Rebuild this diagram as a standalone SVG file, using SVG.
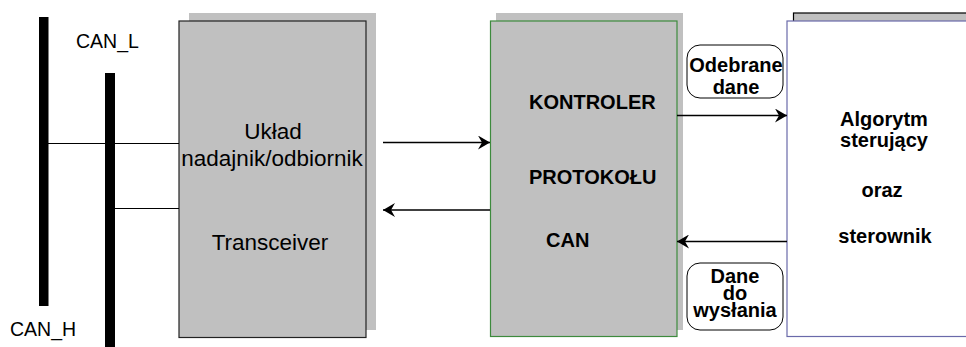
<svg xmlns="http://www.w3.org/2000/svg" width="966" height="347" viewBox="0 0 966 347">
  <style>
    .txt { font-family: "Liberation Sans", Arial, sans-serif; fill: #000; }
    .reg { font-size: 22.5px; }
    .bold { font-size: 20px; font-weight: bold; }
    .small { font-size: 19.5px; }
    .shadow { fill: #c0c0c0; stroke: none; }
    .wire { stroke: #000; stroke-width: 1; fill: none; }
    .arrow { stroke: #000; stroke-width: 1.5; fill: none; marker-end: url(#head); }
    .tag { fill: #fff; stroke: #000; stroke-width: 1; }
  </style>
  <defs>
    <marker id="head" viewBox="0 0 12 14" refX="12" refY="7" markerWidth="12" markerHeight="14" markerUnits="userSpaceOnUse" orient="auto">
      <path d="M0,0 L12,7 L0,14 L4,7 Z" fill="#000"/>
    </marker>
  </defs>

  <!-- bus lines -->
  <g id="bus-can-h">
    <rect x="39" y="17" width="9.5" height="289" fill="#000"/>
    <text class="txt small" x="10" y="336">CAN_H</text>
  </g>
  <g id="bus-can-l">
    <rect x="105" y="73" width="10" height="280" fill="#000"/>
    <text class="txt small" x="76" y="48">CAN_L</text>
  </g>

  <!-- transceiver -->
  <g id="transceiver">
    <rect class="shadow" x="189" y="13" width="187" height="317"/>
    <rect x="179" y="21" width="187" height="316.5" fill="#c0c0c0" stroke="#222" stroke-width="1.2"/>
    <text class="txt reg" x="273" y="139" text-anchor="middle">Układ</text>
    <text class="txt reg" x="272" y="166" text-anchor="middle">nadajnik/odbiornik</text>
    <text class="txt reg" x="270" y="250" text-anchor="middle">Transceiver</text>
  </g>

  <!-- CAN protocol controller -->
  <g id="controller">
    <rect class="shadow" x="496" y="13" width="187" height="317"/>
    <rect x="490.5" y="21" width="186.5" height="315.5" fill="#c0c0c0" stroke="#3d8a3d" stroke-width="1.2"/>
    <text class="txt bold" x="529" y="109">KONTROLER</text>
    <text class="txt bold" x="529" y="184">PROTOKOŁU</text>
    <text class="txt bold" x="546" y="247">CAN</text>
  </g>

  <!-- control algorithm -->
  <g id="algorithm">
    <rect x="793.5" y="13" width="200" height="30" fill="#c0c0c0" stroke="#000" stroke-width="1.2"/>
    <rect x="787" y="21" width="220" height="315.5" fill="#fff" stroke="#6a6aaa" stroke-width="1.2"/>
    <text class="txt bold" x="884" y="126" text-anchor="middle">Algorytm</text>
    <text class="txt bold" x="884" y="147" text-anchor="middle">sterujący</text>
    <text class="txt bold" x="882" y="197" text-anchor="middle">oraz</text>
    <text class="txt bold" x="885" y="243" text-anchor="middle">sterownik</text>
  </g>

  <!-- data labels -->
  <g id="label-received">
    <rect class="tag" x="687" y="45" width="96" height="53" rx="13" ry="13"/>
    <text class="txt bold" x="736" y="72" text-anchor="middle">Odebrane</text>
    <text class="txt bold" x="736" y="94" text-anchor="middle">dane</text>
  </g>
  <g id="label-to-send">
    <rect class="tag" x="687" y="263" width="96" height="67" rx="13" ry="13"/>
    <text class="txt bold" x="735" y="283" text-anchor="middle">Dane</text>
    <text class="txt bold" x="735" y="300" text-anchor="middle">do</text>
    <text class="txt bold" x="735" y="317" text-anchor="middle">wysłania</text>
  </g>

  <!-- connectors -->
  <g id="connectors">
    <line class="wire" x1="48" y1="143.5" x2="179" y2="143.5"/>
    <line class="wire" x1="115" y1="208.5" x2="179" y2="208.5"/>
    <line class="arrow" x1="383" y1="142.5" x2="490" y2="142.5"/>
    <line class="arrow" x1="490" y1="210" x2="383" y2="210"/>
    <line class="arrow" x1="677" y1="115.5" x2="787" y2="115.5"/>
    <line class="arrow" x1="787" y1="241.5" x2="677" y2="241.5"/>
  </g>
</svg>
